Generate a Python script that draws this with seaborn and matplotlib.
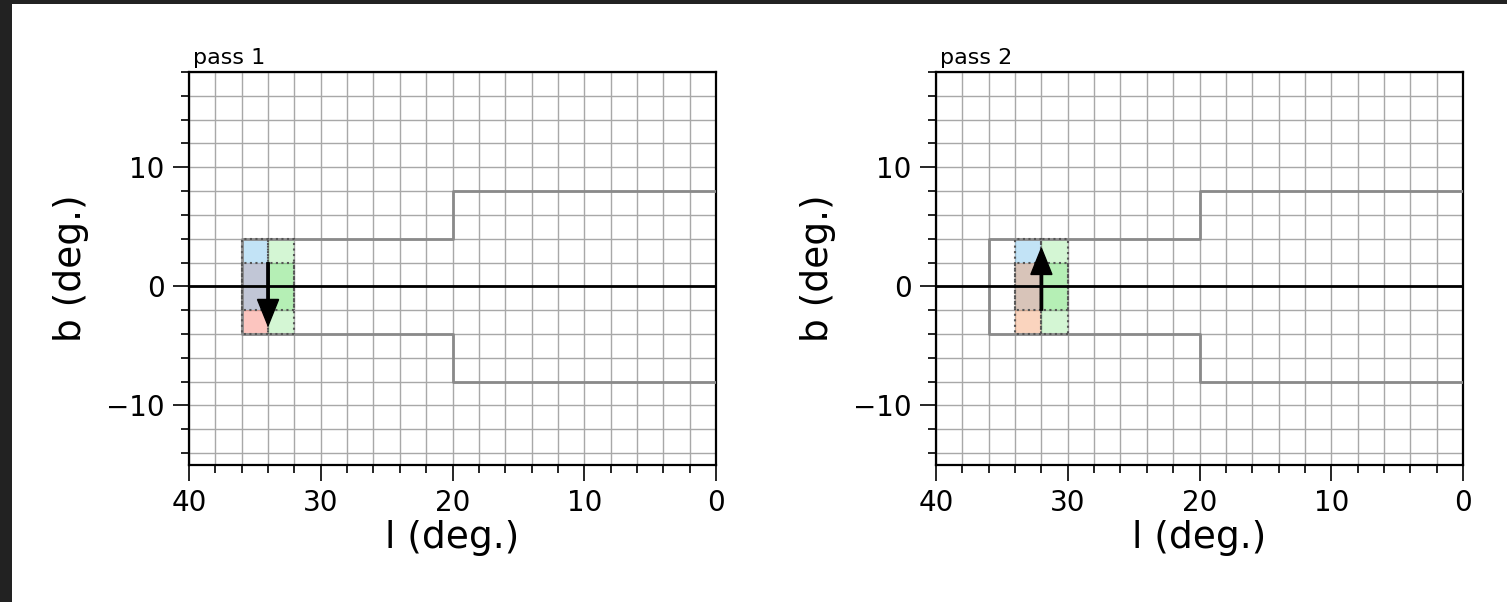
import numpy as np
import pandas as pd
import matplotlib
matplotlib.use("Agg")
import matplotlib.pyplot as plt
import seaborn as sns
from matplotlib.patches import Rectangle
from matplotlib.ticker import MultipleLocator

# survey footprint outline (l, b in degrees)
outline_l = [0, 20, 20, 36, 36, 20, 20, 0]
outline_b = [8, 8, 4, 4, -4, -4, -8, -8]

# beam cells for each pass
pass_names = ["pass 1", "pass 2"]
cell_pass = [0, 0, 0, 0, 1, 1, 1, 1]
cell_l0 = [34, 34, 32, 32, 32, 32, 30, 30]
cell_l1 = [36, 36, 34, 34, 34, 34, 32, 32]
cell_b0 = [-4, -2, -4, -2, -2, -4, -4, -2]
cell_b1 = [2, 4, 2, 4, 4, 2, 2, 4]
cell_kind = ["red", "blue", "green", "green", "blue", "red", "green", "green"]

# scan direction arrows
arrow_l = [34, 32]
arrow_b0 = [2, -2]
arrow_b1 = [-3.3, 3.2]

kind_color = {"red": ("salmon", 0.45), "blue": ("#87c8ee", 0.5), "green": ("#66e066", 0.28)}

sns.set_style("ticks")
plt.rcParams["font.family"] = ["DejaVu Sans"]
plt.rcParams["text.color"] = "black"
plt.rcParams["axes.labelcolor"] = "black"
plt.rcParams["xtick.color"] = "black"
plt.rcParams["ytick.color"] = "black"

fig = plt.figure(figsize=(15.07, 6.02), dpi=100)
fig.patch.set_facecolor("#222222")
fig.add_artist(Rectangle((12 / 1507, 0), 1, 1 - 4 / 602, transform=fig.transFigure,
                         facecolor="white", edgecolor="none", zorder=-10))

outline = pd.DataFrame({"l": outline_l, "b": outline_b})
lefts = [189 / 1507, 936 / 1507]

for i, name in enumerate(pass_names):
    ax = fig.add_axes([lefts[i], 1 - 465 / 602, 527 / 1507, 393 / 602])
    ax.set_facecolor("white")

    sns.lineplot(data=outline, x="l", y="b", sort=False, estimator=None,
                 color="#8a8a8a", lw=2, ax=ax, zorder=3)
    ax.axhline(0, color="black", lw=2, zorder=4)

    for p, l0, l1, b0, b1, k in zip(cell_pass, cell_l0, cell_l1, cell_b0, cell_b1, cell_kind):
        if p != i:
            continue
        c, a = kind_color[k]
        if i == 1 and k == "red":
            c, a = "#f4a070", 0.45
        ax.add_patch(Rectangle((l0, b0), l1 - l0, b1 - b0, facecolor=c, alpha=a,
                               edgecolor="none", zorder=2))
        ax.add_patch(Rectangle((l0, b0), l1 - l0, b1 - b0, facecolor="none",
                               edgecolor="#555555", ls=":", lw=1.5, zorder=3))

    ax.arrow(arrow_l[i], arrow_b0[i], 0, arrow_b1[i] - arrow_b0[i], width=0.18,
             head_width=1.6, head_length=2.2, length_includes_head=True,
             color="black", zorder=6)

    ax.set_xlim(40, 0)
    ax.set_ylim(-15, 18)
    ax.xaxis.set_major_locator(MultipleLocator(10))
    ax.xaxis.set_minor_locator(MultipleLocator(2))
    ax.yaxis.set_major_locator(MultipleLocator(10))
    ax.yaxis.set_minor_locator(MultipleLocator(2))
    ax.grid(which="both", color="#a8a8a8", lw=1, zorder=0)
    ax.set_axisbelow(True)
    ax.tick_params(which="major", length=11.5, width=1.2, labelsize=20, pad=6, direction="out")
    ax.tick_params(which="minor", length=6, width=1.2, direction="out")
    for s in ax.spines.values():
        s.set_color("black")
        s.set_linewidth(1.6)

    ax.set_xlabel("l (deg.)", fontsize=27)
    ax.set_ylabel("b (deg.)", fontsize=27)
    ax.xaxis.set_label_coords(0.5, -0.14)
    ax.yaxis.set_label_coords(-0.19, 0.5)
    ax.set_title(name, loc="left", fontsize=16, pad=6, x=0.008)

fig.savefig("out.png", dpi=100, facecolor=fig.get_facecolor())
